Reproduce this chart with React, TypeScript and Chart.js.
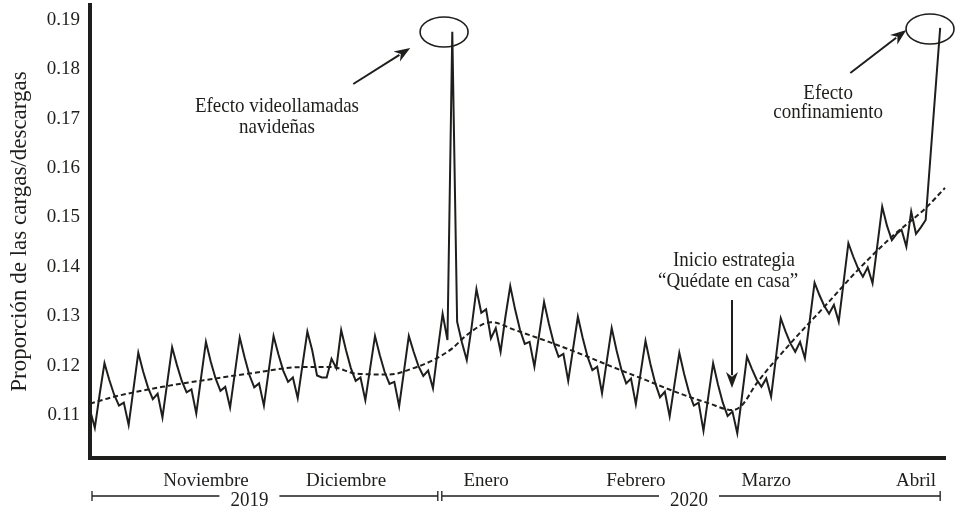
import React, { useEffect, useRef } from 'react';
import { Chart, registerables } from 'chart.js';

Chart.register(...registerables);

// ---------- data ----------
const startDate = '2019-10-21';

// daily proportion of uploads/downloads
const proportion: (number | null)[] = [
  0.1110, 0.1074, 0.1142,
  0.1205, 0.1171, 0.1141, 0.1119, 0.1125, 0.1080, 0.1153,
  0.1226, 0.1188, 0.1156, 0.1132, 0.1143, 0.1095, 0.1166,
  0.1237, 0.1201, 0.1169, 0.1146, 0.1152, 0.1103, 0.1176,
  0.1248, 0.1208, 0.1174, 0.1149, 0.1157, 0.1115, 0.1186,
  0.1257, 0.1217, 0.1181, 0.1156, 0.1164, 0.1119, 0.1190,
  0.1260, 0.1223, 0.1190, 0.1167, 0.1176, 0.1134, 0.1202,
  0.1269, 0.1231, 0.1180, 0.1176, 0.1176, 0.1214, 0.1195,
  0.1272, 0.1231, 0.1195, 0.1169, 0.1176, 0.1130, 0.1195,
  0.1260, 0.1221, 0.1187, 0.1163, 0.1167, 0.1118, 0.1189,
  0.1260, 0.1228, 0.1199, 0.1179, 0.1190, 0.1154, 0.1232,
  0.1305, 0.1252, 0.1876, 0.1289, 0.1247, 0.1211, 0.1278,
  0.1355, 0.1307, 0.1314, 0.1255, 0.1276, 0.1228, 0.1299,
  0.1361, 0.1314, 0.1273, 0.1244, 0.1248, 0.1198, 0.1264,
  0.1329, 0.1285, 0.1246, 0.1218, 0.1224, 0.1169, 0.1234,
  0.1299, 0.1256, 0.1218, 0.1191, 0.1198, 0.1144, 0.1210,
  0.1276, 0.1231, 0.1192, 0.1164, 0.1174, 0.1122, 0.1186,
  0.1250, 0.1204, 0.1165, 0.1136, 0.1147, 0.1097, 0.1162,
  0.1226, 0.1183, 0.1146, 0.1119, 0.1125, 0.1068, 0.1137,
  0.1205, 0.1162, 0.1125, 0.1098, 0.1107, 0.1063, 0.1140,
  0.1218, 0.1194, 0.1172, 0.1157, 0.1174, 0.1137, 0.1216,
  0.1296, 0.1269, 0.1245, 0.1228, 0.1248, 0.1215, 0.1291,
  0.1368, 0.1343, 0.1321, 0.1305, 0.1323, 0.1289, 0.1368,
  0.1448, 0.1421, 0.1397, 0.1380, 0.1399, 0.1367, 0.1444,
  0.1522, 0.1483, 0.1454, 0.1467, 0.1475, 0.1441, 0.1512,
  0.1467, 0.1480, 0.1495, null, null, 0.1884, null,
];

// smoothed trend (dashed), read at a few days
const trendDay = [0, 5, 15, 26, 33, 44, 50, 55, 62, 67, 71, 75, 78, 83, 88, 95, 102, 108, 115, 122, 128, 133, 135, 138, 145, 152, 159, 166, 173, 177];
const trendValue = [0.1123, 0.1137, 0.1157, 0.1174, 0.1184, 0.1197, 0.1197, 0.1184, 0.1182, 0.1195, 0.1211, 0.1235, 0.1262, 0.1288, 0.1272, 0.1248, 0.1222, 0.1198, 0.1171, 0.1144, 0.1124, 0.1110, 0.1120, 0.1164, 0.1245, 0.1319, 0.1394, 0.1461, 0.1519, 0.1560];

const yTickValues = [0.11, 0.12, 0.13, 0.14, 0.15, 0.16, 0.17, 0.18, 0.19];

const monthNames = ['Noviembre', 'Diciembre', 'Enero', 'Febrero', 'Marzo', 'Abril'];
const monthDates = ['2019-11-14', '2019-12-13', '2020-01-11', '2020-02-11', '2020-03-09', '2020-04-09'];

const yearNames = ['2019', '2020'];
const yearFrom = ['2019-10-21', '2020-01-01'];
const yearTo = ['2020-01-01', '2020-04-14'];
const yearTextAt = ['2019-11-23', '2020-02-22'];

const noteTexts = ['Efecto videollamadas', 'navideñas', 'Efecto', 'confinamiento', 'Inicio estrategia', '\u201CQuédate en casa\u201D'];
const noteDay = [38.7, 38.7, 152.8, 152.8, 133.3, 132.1];
const noteValue = [0.17259, 0.16833, 0.17522, 0.17137, 0.14139, 0.13714];

const ringDay = [73.3, 173.9];
const ringValue = [0.18757, 0.18818];

const arrowFromDay = [54.5, 157.4, 132.9];
const arrowFromValue = [0.17704, 0.17927, 0.13329];
const arrowToDay = [66.3, 169.0, 132.9];
const arrowToValue = [0.18433, 0.18797, 0.11547];

// ---------- derived tables ----------
const [sy, sm, sd] = startDate.split('-').map(Number);
const labels = proportion.map((_, i) => new Date(Date.UTC(sy, sm - 1, sd + i)).toISOString().slice(0, 10));
const trendSeries: (number | null)[] = labels.map(() => null);
trendDay.forEach((d, k) => { trendSeries[d] = trendValue[k]; });
const monthIndex = monthDates.map((d) => labels.indexOf(d));

const ink = '#1e1e1c';
const serif = '"Liberation Serif", "Times New Roman", serif';

function tallText(ctx: CanvasRenderingContext2D, text: string, x: number, y: number, sy2: number) {
  ctx.save();
  ctx.translate(x, y);
  ctx.scale(1, sy2);
  ctx.fillText(text, 0, 0);
  ctx.restore();
}

const decor = {
  id: 'decor',
  afterDraw(chart: any) {
    const { ctx, chartArea } = chart;
    const xs = chart.scales.x;
    const ys = chart.scales.y;
    const px = (i: number) => xs.getPixelForValue(i);
    const py = (v: number) => ys.getPixelForValue(v);
    ctx.save();
    ctx.fillStyle = ink;
    ctx.strokeStyle = ink;
    ctx.textAlign = 'center';
    ctx.textBaseline = 'middle';
    ctx.font = `19px ${serif}`;
    noteTexts.forEach((t, k) => tallText(ctx, t, px(noteDay[k]), py(noteValue[k]), 1.12));

    // ellipses
    ctx.lineWidth = 1.6;
    ringDay.forEach((d, k) => {
      ctx.beginPath();
      ctx.ellipse(px(d), py(ringValue[k]), 24, 15, 0, 0, Math.PI * 2);
      ctx.stroke();
    });

    // arrows
    arrowFromDay.forEach((d, k) => {
      const x1 = px(d), y1 = py(arrowFromValue[k]);
      const x2 = px(arrowToDay[k]), y2 = py(arrowToValue[k]);
      const a = Math.atan2(y2 - y1, x2 - x1);
      const L = 16, W = 6;
      ctx.lineWidth = 2;
      ctx.beginPath();
      ctx.moveTo(x1, y1);
      ctx.lineTo(x2 - Math.cos(a) * L * 0.8, y2 - Math.sin(a) * L * 0.8);
      ctx.stroke();
      ctx.beginPath();
      ctx.moveTo(x2, y2);
      ctx.lineTo(x2 - Math.cos(a) * L - Math.sin(a) * W, y2 - Math.sin(a) * L + Math.cos(a) * W);
      ctx.lineTo(x2 - Math.cos(a) * L * 0.7, y2 - Math.sin(a) * L * 0.7);
      ctx.lineTo(x2 - Math.cos(a) * L + Math.sin(a) * W, y2 - Math.sin(a) * L - Math.cos(a) * W);
      ctx.closePath();
      ctx.fill();
    });

    // year brackets
    const yl = chartArea.bottom + 38;
    ctx.lineWidth = 1.3;
    ctx.font = `19px ${serif}`;
    yearNames.forEach((name, k) => {
      let a = px(labels.indexOf(yearFrom[k]));
      const b = px(labels.indexOf(yearTo[k]));
      a = k === 0 ? a + 2 : a + 4;
      const t = px(labels.indexOf(yearTextAt[k]));
      const w = ctx.measureText(name).width / 2 + 11;
      ctx.beginPath();
      ctx.moveTo(a, yl); ctx.lineTo(t - w, yl);
      ctx.moveTo(t + w, yl); ctx.lineTo(b, yl);
      ctx.moveTo(a, yl - 5); ctx.lineTo(a, yl + 5);
      ctx.moveTo(b, yl - 5); ctx.lineTo(b, yl + 5);
      ctx.stroke();
      tallText(ctx, name, t, yl + 4, 1.12);
    });
    ctx.restore();
  },
};

export default function App() {
  const ref = useRef<HTMLCanvasElement | null>(null);
  useEffect(() => {
    if (!ref.current) return;
    const chart = new Chart(ref.current, {
      type: 'line',
      data: {
        labels,
        datasets: [
          {
            data: proportion,
            borderColor: ink,
            borderWidth: 2,
            pointRadius: 0,
            tension: 0,
            spanGaps: true,
            fill: false,
          },
          {
            data: trendSeries,
            borderColor: ink,
            borderWidth: 2,
            borderDash: [5, 3],
            pointRadius: 0,
            cubicInterpolationMode: 'monotone',
            spanGaps: true,
            fill: false,
          },
        ],
      },
      options: {
        responsive: false,
        animation: false,
        events: [],
        layout: { padding: { left: 0, right: 16, top: 5, bottom: 0 } },
        plugins: { legend: { display: false }, tooltip: { enabled: false } },
        scales: {
          x: {
            type: 'category',
            grid: { display: false, drawTicks: false },
            border: { display: true, color: ink, width: 4 },
            ticks: {
              autoSkip: false,
              maxRotation: 0,
              minRotation: 0,
              padding: 12,
              color: ink,
              font: { family: serif, size: 19 },
              callback: (_v: any, i: number) => {
                const k = monthIndex.indexOf(i);
                return k >= 0 ? monthNames[k] : '';
              },
            },
            afterFit: (s: any) => { s.height = 54; s.paddingLeft = 0; s.paddingRight = 0; },
          },
          y: {
            min: 0.101291,
            max: 0.193038,
            grid: { display: false, drawTicks: false },
            border: { display: true, color: ink, width: 4 },
            afterBuildTicks: (s: any) => { s.ticks = yTickValues.map((v) => ({ value: v })); },
            ticks: {
              padding: 10,
              color: ink,
              font: { family: serif, size: 19 },
              callback: (v: any) => Number(v).toFixed(2),
            },
            title: {
              display: true,
              text: 'Proporción de las cargas/descargas',
              color: ink,
              font: { family: serif, size: 23 },
              padding: { top: 6, bottom: 0 },
            },
            afterFit: (s: any) => { s.width = 90; s.paddingTop = 0; s.paddingBottom = 0; },
          },
        },
      },
      plugins: [decor],
    } as any);
    return () => chart.destroy();
  }, []);
  return (
    <div style={{ position: 'fixed', left: 0, top: 0, width: 961, height: 512, background: '#fff' }}>
      <canvas ref={ref} width={961} height={512} style={{ display: 'block' }} />
    </div>
  );
}
